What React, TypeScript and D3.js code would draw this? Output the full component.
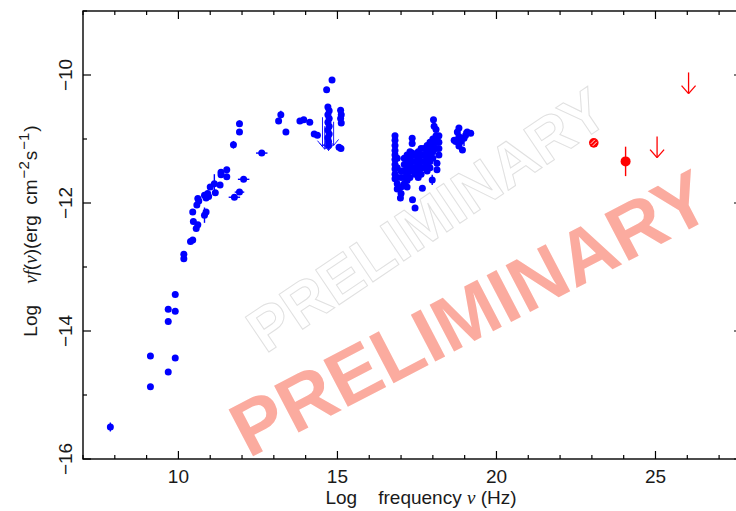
import React from "react";
import * as d3 from "d3";

// ---- data: [logNu, logNuFnu, xErr, yErr] ----
const radio: number[][] = [
  [7.86, -15.5, 0, 0.07],
  [9.12, -14.39, 0, 0.03],
  [9.12, -14.87, 0, 0.03],
  [9.68, -13.66, 0, 0.04],
  [9.68, -13.85, 0, 0.03],
  [9.68, -14.64, 0, 0.03],
  [9.9, -13.43, 0, 0.03],
  [9.9, -13.69, 0, 0.03],
  [9.9, -14.42, 0, 0.03],
  [10.17, -12.8, 0, 0.03],
  [10.17, -12.87, 0, 0.03],
];

const mmIR: number[][] = [
  [10.38, -12.6, 0, 0.02],
  [10.45, -12.58, 0, 0.02],
  [10.47, -12.29, 0, 0.03],
  [10.45, -12.14, 0, 0.03],
  [10.56, -12.4, 0, 0.03],
  [10.61, -12.34, 0, 0.03],
  [10.58, -12.03, 0, 0.03],
  [10.61, -11.93, 0, 0.03],
  [10.64, -11.97, 0, 0.03],
  [10.82, -12.19, 0, 0.12],
  [10.87, -12.14, 0, 0.03],
  [10.82, -11.88, 0, 0.03],
  [10.92, -11.85, 0, 0.03],
  [10.87, -11.92, 0, 0.03],
  [10.95, -11.9, 0, 0.03],
  [11.0, -11.75, 0, 0.03],
  [11.13, -11.7, 0, 0.15],
  [11.16, -11.84, 0, 0.03],
  [11.31, -11.72, 0, 0.03],
  [11.34, -11.56, 0, 0.03],
  [11.34, -11.52, 0, 0.03],
  [11.52, -11.48, 0, 0.03],
  [11.52, -11.59, 0, 0.03],
  [11.73, -11.09, 0, 0.06],
  [11.92, -10.76, 0, 0.05],
  [11.92, -10.89, 0, 0.03],
  [12.62, -11.22, 0.18, 0.02],
  [12.05, -11.63, 0.18, 0.02],
  [11.92, -11.83, 0.15, 0.02],
  [11.76, -11.91, 0.18, 0.02],
];

const optical: number[][] = [
  [13.15, -10.72, 0, 0.03],
  [13.22, -10.62, 0, 0.06],
  [13.38, -10.89, 0, 0.03],
  [13.82, -10.72, 0, 0.02],
  [13.94, -10.7, 0, 0.02],
  [14.13, -10.74, 0, 0.02],
  [14.27, -10.92, 0.05, 0.02],
  [14.37, -10.94, 0.05, 0.02],
  [14.66, -10.23, 0, 0.02],
  [14.83, -10.08, 0, 0.02],
  [14.7, -10.5, 0, 0.02],
  [14.74, -10.56, 0, 0.02],
  [14.7, -10.62, 0, 0.02],
  [14.74, -10.68, 0, 0.02],
  [14.7, -10.74, 0, 0.02],
  [14.74, -10.8, 0, 0.02],
  [14.7, -10.86, 0, 0.02],
  [14.74, -10.92, 0, 0.02],
  [14.7, -10.98, 0, 0.02],
  [14.72, -11.04, 0, 0.02],
  [14.72, -11.1, 0, 0.02],
  [15.1, -10.55, 0, 0.03],
  [15.12, -10.62, 0, 0.03],
  [15.1, -10.68, 0, 0.03],
  [15.12, -10.75, 0, 0.03],
  [15.11, -11.15, 0, 0.02],
  [15.05, -11.13, 0, 0.02],
];

// optical/UV upper limits: [logNu, start, tip]
const opticalLimits: number[][] = [
  [14.53, -10.66, -11.12],
  [14.6, -10.8, -11.16],
  [14.72, -10.9, -11.18],
  [14.88, -10.73, -11.1],
];

const xray: number[][] = [
  [16.81, -10.95, 0, 0.04], [16.81, -11.02, 0, 0.04], [16.81, -11.1, 0, 0.04],
  [16.81, -11.18, 0, 0.04], [16.81, -11.25, 0, 0.04], [16.81, -11.32, 0, 0.04],
  [16.81, -11.4, 0, 0.04], [16.81, -11.47, 0, 0.04], [16.81, -11.55, 0, 0.04],
  [16.81, -11.62, 0, 0.04],
  [16.88, -11.3, 0, 0.04], [16.88, -11.45, 0, 0.04], [16.88, -11.6, 0, 0.04],
  [16.88, -11.7, 0, 0.04], [16.88, -11.78, 0, 0.04],
  [17.0, -11.5, 0, 0.04], [17.0, -11.6, 0, 0.04], [17.0, -11.75, 0, 0.05],
  [17.0, -11.85, 0, 0.05], [16.98, -11.92, 0, 0.05],
  [17.1, -11.3, 0, 0.04], [17.1, -11.4, 0, 0.04], [17.1, -11.5, 0, 0.04],
  [17.1, -11.6, 0, 0.04], [17.1, -11.7, 0, 0.04],
  [17.19, -11.25, 0, 0.04], [17.19, -11.35, 0, 0.04], [17.19, -11.45, 0, 0.04],
  [17.19, -11.55, 0, 0.04], [17.19, -11.65, 0, 0.04], [17.19, -11.75, 0, 0.04],
  [17.28, -11.2, 0, 0.04], [17.28, -11.3, 0, 0.04], [17.28, -11.4, 0, 0.04],
  [17.28, -11.5, 0, 0.04], [17.28, -11.6, 0, 0.04],
  [17.35, -10.99, 0, 0.03], [17.35, -11.07, 0, 0.03], [17.35, -11.22, 0, 0.04],
  [17.35, -11.35, 0, 0.04], [17.35, -11.48, 0, 0.04], [17.36, -11.95, 0, 0.04],
  [17.44, -11.25, 0, 0.04], [17.44, -11.35, 0, 0.04], [17.44, -11.45, 0, 0.04],
  [17.44, -11.55, 0, 0.04], [17.44, -12.08, 0, 0.04],
  [17.54, -11.2, 0, 0.04], [17.54, -11.3, 0, 0.04], [17.54, -11.4, 0, 0.04],
  [17.54, -11.5, 0, 0.04], [17.54, -11.6, 0, 0.04],
  [17.63, -11.15, 0, 0.04], [17.63, -11.25, 0, 0.04], [17.63, -11.35, 0, 0.04],
  [17.63, -11.45, 0, 0.04], [17.63, -11.55, 0, 0.04],
  [17.72, -11.15, 0, 0.04], [17.72, -11.25, 0, 0.04], [17.72, -11.35, 0, 0.04],
  [17.72, -11.45, 0, 0.04], [17.67, -11.77, 0, 0.04],
  [17.82, -11.1, 0, 0.04], [17.82, -11.2, 0, 0.04], [17.82, -11.3, 0, 0.04],
  [17.82, -11.4, 0, 0.04], [17.82, -11.5, 0, 0.04],
  [17.91, -11.05, 0, 0.04], [17.91, -11.15, 0, 0.04], [17.91, -11.25, 0, 0.04],
  [17.91, -11.35, 0, 0.04], [17.91, -11.45, 0, 0.04],
  [18.02, -10.7, 0, 0.04], [18.04, -10.8, 0, 0.04], [18.0, -11.0, 0, 0.04],
  [18.0, -11.1, 0, 0.04], [18.0, -11.2, 0, 0.04], [18.0, -11.3, 0, 0.04],
  [17.98, -11.64, 0, 0.08],
  [18.1, -10.85, 0, 0.04], [18.1, -10.95, 0, 0.04], [18.1, -11.05, 0, 0.04],
  [18.1, -11.15, 0, 0.04], [18.13, -11.38, 0, 0.04], [18.13, -11.48, 0, 0.04],
  [18.19, -10.95, 0, 0.04], [18.19, -11.05, 0, 0.04], [18.19, -11.15, 0, 0.04],
  [18.19, -11.25, 0, 0.04],
];

const hardX: number[][] = [
  [18.67, -11.02, 0, 0.04],
  [18.72, -11.04, 0, 0.03],
  [18.82, -10.83, 0, 0.04],
  [18.77, -10.89, 0, 0.03],
  [18.82, -10.96, 0, 0.04],
  [18.82, -11.11, 0, 0.05],
  [18.88, -11.04, 0, 0.05],
  [18.98, -10.99, 0, 0.12],
  [18.93, -11.17, 0, 0.03],
  [19.03, -10.94, 0, 0.04],
  [19.08, -10.89, 0, 0.03],
  [19.19, -10.91, 0, 0.04],
];

const gamma: number[][] = [
  [23.06, -11.06, 0, 0.05],
  [24.06, -11.35, 0, 0.23],
];

const gammaLimits: number[][] = [
  [25.05, -10.96, -11.29],
  [26.04, -9.96, -10.29],
];

const xTickLabels = [10, 15, 20, 25];
const yTickLabels = [-10, -12, -14, -16];

const W = 736;
const H = 511;

export default function App() {
  const x = d3.scaleLinear().domain([7, 27.72]).range([83, 742]);
  const y = d3.scaleLinear().domain([-16, -9]).range([459, 11]);
  const [x0, x1] = x.range();
  const [y0, y1] = y.range();

  const xTicks = d3.range(7, 28);
  const yTicks = d3.range(-16, -8);

  const blue = "#0000ff";
  const red = "#ff0000";
  const blueSets = [radio, mmIR, optical, xray, hardX];

  const point = (d: number[], color: string, r: number, key: string) => {
    const cx = x(d[0]);
    const cy = y(d[1]);
    return (
      <g key={key}>
        {d[3] > 0 && (
          <line x1={cx} x2={cx} y1={y(d[1] + d[3])} y2={y(d[1] - d[3])} stroke={color} strokeWidth={1.4} />
        )}
        {d[2] > 0 && (
          <line x1={x(d[0] - d[2])} x2={x(d[0] + d[2])} y1={cy} y2={cy} stroke={color} strokeWidth={1.4} />
        )}
        <circle cx={cx} cy={cy} r={r} fill={color} />
      </g>
    );
  };

  const arrow = (d: number[], color: string, hw: number, hh: number, sw: number, key: string) => {
    const ax = x(d[0]);
    const ya = y(d[1]);
    const yt = y(d[2]);
    return (
      <g key={key} stroke={color} strokeWidth={sw} fill="none">
        <line x1={ax} x2={ax} y1={ya} y2={yt} />
        <line x1={ax - hw} x2={ax} y1={yt - hh} y2={yt} />
        <line x1={ax + hw} x2={ax} y1={yt - hh} y2={yt} />
      </g>
    );
  };

  const font = "'Liberation Sans', Arial, Helvetica, sans-serif";
  const serif = "'Liberation Serif', 'DejaVu Serif', serif";
  const txt = "#1a1a1a";

  return (
    <svg width={W} height={H} style={{ position: "absolute", left: 0, top: 0, background: "#fff" }}>
      <rect x={0} y={0} width={W} height={H} fill="#fff" />

      {/* watermarks */}
      <text
        transform="translate(427,220) rotate(-34)"
        textAnchor="middle"
        dominantBaseline="central"
        fontFamily={font}
        fontWeight="bold"
        fontSize={61}
        fill="none"
        stroke="#e0e0e0"
        strokeWidth={1}
      >
        PRELIMINARY
      </text>
      <text
        transform="translate(470,313) rotate(-27.5)"
        textAnchor="middle"
        dominantBaseline="central"
        fontFamily={font}
        fontWeight="bold"
        fontSize={77}
        fill="#fbab9f"
      >
        PRELIMINARY
      </text>

      {/* data */}
      {blueSets.map((set, si) => set.map((d, i) => point(d, blue, 3.5, `b${si}-${i}`)))}
      {opticalLimits.map((d, i) => arrow(d, blue, 5, 6, 0.9, `ol${i}`))}
      {point(gamma[0], red, 4.8, "g0")}
      <g stroke="#fff" strokeWidth={0.9}>
        <line x1={x(gamma[0][0]) - 3} y1={y(gamma[0][1]) + 1} x2={x(gamma[0][0]) + 1} y2={y(gamma[0][1]) - 3} />
        <line x1={x(gamma[0][0]) - 1} y1={y(gamma[0][1]) + 3} x2={x(gamma[0][0]) + 3} y2={y(gamma[0][1]) - 1} />
      </g>
      {point(gamma[1], red, 5, "g1")}
      {gammaLimits.map((d, i) => arrow(d, red, 7, 8, 1.3, `gl${i}`))}

      {/* frame */}
      <rect x={x0} y={y1} width={x1 - x0} height={y0 - y1} fill="none" stroke="#000" strokeWidth={1.4} />

      {/* x ticks */}
      {xTicks.map((t) => {
        const len = t % 5 === 0 ? 8 : 4;
        const px = x(t);
        return (
          <g key={`xt${t}`} stroke="#000" strokeWidth={1.2}>
            <line x1={px} x2={px} y1={y0} y2={y0 - len} />
            <line x1={px} x2={px} y1={y1} y2={y1 + len} />
          </g>
        );
      })}
      {/* y ticks */}
      {yTicks.map((t) => {
        const len = t % 2 === 0 ? 8 : 4;
        const py = y(t);
        return (
          <g key={`yt${t}`} stroke="#000" strokeWidth={1.2}>
            <line x1={x0} x2={x0 + len} y1={py} y2={py} />
            <line x1={x1} x2={x1 - len} y1={py} y2={py} />
          </g>
        );
      })}

      {/* tick labels */}
      {xTickLabels.map((t) => (
        <text key={`xl${t}`} x={x(t)} y={483} textAnchor="middle" fontFamily={font} fontSize={19} fill={txt}>
          {t}
        </text>
      ))}
      {yTickLabels.map((t) => (
        <text
          key={`yl${t}`}
          transform={`translate(72,${y(t)}) rotate(-90)`}
          textAnchor="middle"
          fontFamily={font}
          fontSize={19}
          fill={txt}
        >
          {`\u2212${Math.abs(t)}`}
        </text>
      ))}

      {/* axis titles */}
      <text x={421} y={504} textAnchor="middle" fontFamily={font} fontSize={19} fill={txt} style={{ whiteSpace: "pre" }}>
        {"Log    frequency "}
        <tspan fontFamily={serif} fontStyle="italic">ν</tspan>
        {" (Hz)"}
      </text>
      <text
        transform="translate(37,231) rotate(-90)"
        textAnchor="middle"
        fontFamily={font}
        fontSize={19}
        fill={txt}
        style={{ whiteSpace: "pre" }}
      >
        {"Log    "}
        <tspan fontFamily={serif} fontStyle="italic">ν</tspan>
        <tspan fontFamily={serif} fontStyle="italic">f</tspan>
        {"("}
        <tspan fontFamily={serif} fontStyle="italic">ν</tspan>
        {")(erg  cm"}
        <tspan dy={-8} dx={1} fontSize={15}>{"\u22122"}</tspan>
        <tspan dy={8} dx={1}>s</tspan>
        <tspan dy={-8} dx={1} fontSize={15}>{"\u22121"}</tspan>
        <tspan dy={8} dx={1}>)</tspan>
      </text>
    </svg>
  );
}
